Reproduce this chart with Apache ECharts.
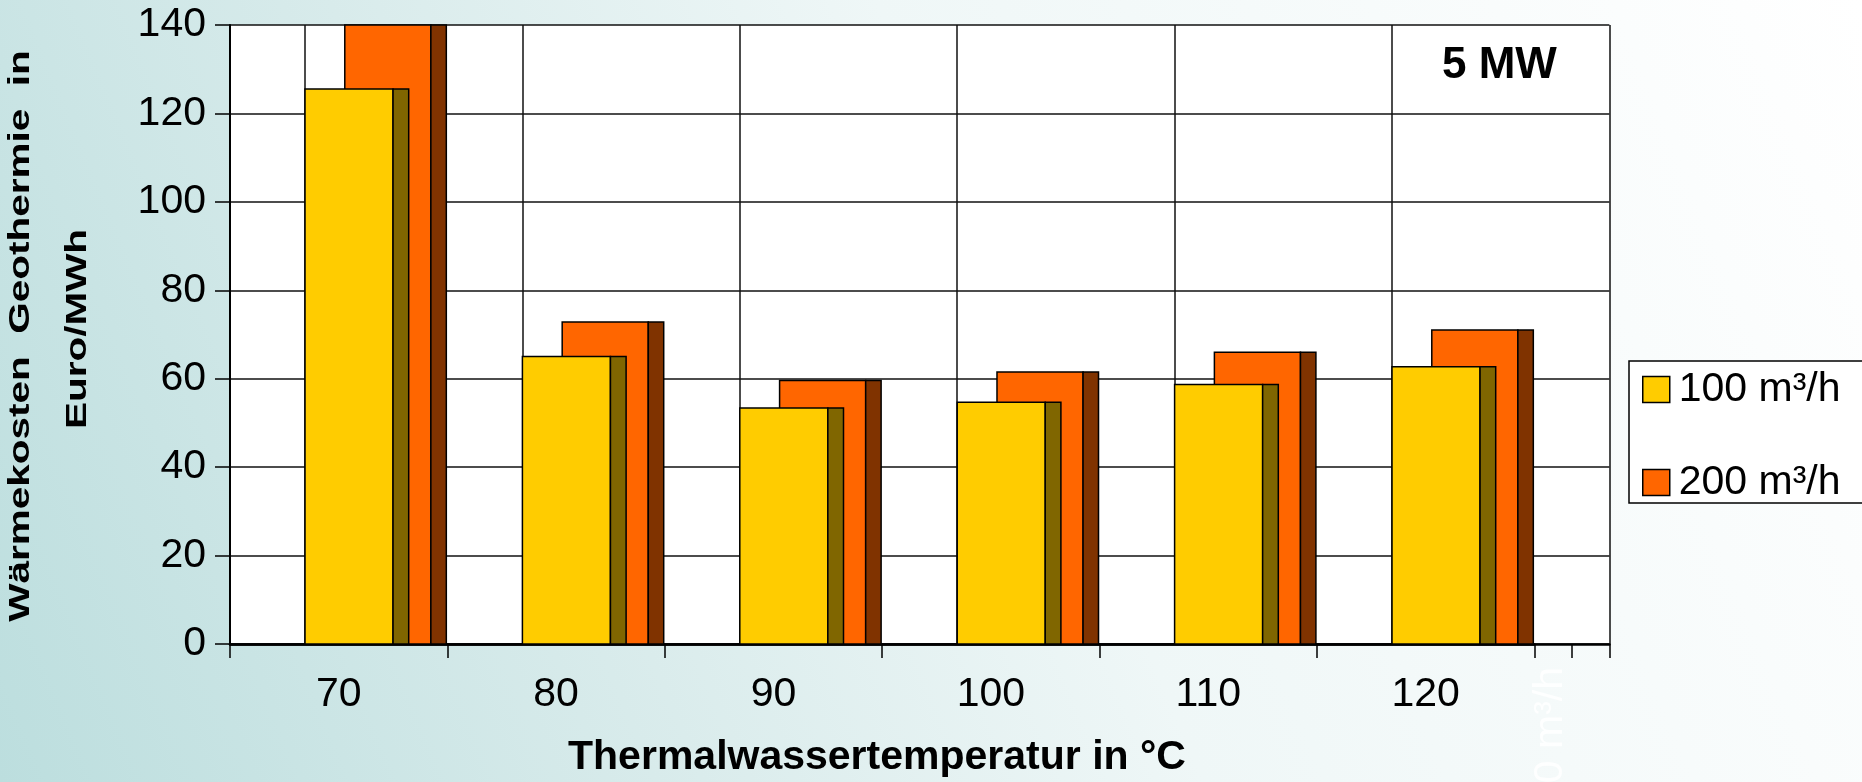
<!DOCTYPE html>
<html lang="de">
<head>
<meta charset="UTF-8">
<title>Wärmekosten Geothermie 5 MW</title>
<script src="https://cdn.jsdelivr.net/npm/echarts@6/dist/echarts.min.js"></script>
<style>
  html, body { margin: 0; padding: 0; }
  #chart { width: 1862px; height: 782px; }
</style>
</head>
<body>
<div id="chart"></div>
<script>
  // Thermalwassertemperatur in °C
  const temperatures = ['70', '80', '90', '100', '110', '120'];
  // Wärmekosten Geothermie in Euro/MWh
  const cost100 = [125.5, 65.0, 53.4, 54.7, 58.7, 62.7];
  const cost200 = [140, 72.8, 59.6, 61.5, 66.0, 71.0];
  const seriesNames = ['100 m³/h', '200 m³/h'];
  const yMin = 0, yMax = 140, yStep = 20;

  const FONT = '"Liberation Sans", Arial, Helvetica, sans-serif';

  // Tiefe der Rückwand als Anteil einer Kategorienbreite
  const DEPTH = 0.345;
  const PLOT_LEFT = 230, PLOT_TOP = 25, PLOT_H = 619;
  const CAT_W = 1304.4; // Breite der 6 Kategorien

  // Säule mit Vorderseite + dunkler Seitenfläche (Excel-3D-Optik)
  // lo/hi/end: Anteile der Kategorienbreite
  function bar3d(face, side, lo, hi, end) {
    return function (params, api) {
      const base = api.coord([api.value(0), 0]);
      const top = api.coord([api.value(0), api.value(1)]);
      const band = api.size([1, 0])[0];
      const x0 = base[0] - band / 2;
      const h = base[1] - top[1];
      return {
        type: 'group',
        children: [
          {
            type: 'rect',
            shape: { x: x0 + lo * band, y: top[1], width: (hi - lo) * band, height: h },
            style: { fill: face, stroke: '#000', lineWidth: 1.5 }
          },
          {
            type: 'rect',
            shape: { x: x0 + hi * band, y: top[1], width: (end - hi) * band, height: h },
            style: { fill: side, stroke: '#000', lineWidth: 1.5 }
          }
        ]
      };
    };
  }

  const chart = echarts.init(document.getElementById('chart'));

  const option = {
    animation: false,
    backgroundColor: {
      type: 'linear', x: 0, y: 1, x2: 1, y2: 0,
      colorStops: [
        { offset: 0, color: '#bcdede' },
        { offset: 0.3, color: '#d8ebeb' },
        { offset: 0.55, color: '#eff7f7' },
        { offset: 1, color: '#ffffff' }
      ]
    },
    grid: [
      // Säulen + Achsen
      { left: PLOT_LEFT, top: PLOT_TOP, width: CAT_W, height: PLOT_H },
      // Rückwand mit Gitternetz (um DEPTH nach rechts versetzt)
      {
        left: PLOT_LEFT, top: PLOT_TOP, width: CAT_W * (6 + DEPTH) / 6, height: PLOT_H,
        show: true, backgroundColor: '#fff', borderWidth: 0
      }
    ],
    xAxis: [
      {
        type: 'category', gridIndex: 0, data: temperatures, position: 'bottom',
        axisLine: { lineStyle: { color: '#000', width: 2.5 } },
        axisTick: { show: true, length: 14, lineStyle: { color: '#000', width: 1.5 } },
        axisLabel: { fontSize: 41, fontFamily: FONT, color: '#000', margin: 30 },
        splitLine: { show: false }
      },
      {
        // inverse: Zählung von der rechten Kante, damit die Linien um DEPTH versetzt liegen
        type: 'value', gridIndex: 1, inverse: true, position: 'bottom',
        min: 0, max: 6 + DEPTH, interval: 1,
        axisLine: { show: true, lineStyle: { color: '#000', width: 2.5 } },
        axisTick: { show: false },
        axisLabel: { show: false },
        splitLine: { show: true, lineStyle: { color: '#111', width: 1.5 } }
      },
      {
        // nur die beiden Striche am Boden der Rückwand
        type: 'value', gridIndex: 1, inverse: true, position: 'bottom',
        min: 0, max: 6 + DEPTH,
        axisLine: { show: false },
        axisTick: { show: true, length: 14, customValues: [0, DEPTH / 2],
                    lineStyle: { color: '#000', width: 1.5 } },
        axisLabel: { show: false },
        splitLine: { show: false }
      }
    ],
    yAxis: [
      {
        type: 'value', gridIndex: 0, min: yMin, max: yMax, interval: yStep,
        axisLine: { show: true, lineStyle: { color: '#000', width: 2 } },
        axisTick: { show: true, length: 15, lineStyle: { color: '#000', width: 1.5 } },
        axisLabel: { fontSize: 41, fontFamily: FONT, color: '#000', margin: 24 },
        splitLine: { show: false }
      },
      {
        type: 'value', gridIndex: 1, min: yMin, max: yMax, interval: yStep,
        axisLine: { show: false }, axisTick: { show: false }, axisLabel: { show: false },
        splitLine: { show: true, lineStyle: { color: '#111', width: 1.5 } }
      }
    ],
    legend: {
      orient: 'vertical', left: 1629, top: 361,
      icon: 'rect', itemWidth: 27, itemHeight: 26, itemGap: 52,
      padding: [8, 60, 0, 13],
      backgroundColor: '#fff', borderColor: '#000', borderWidth: 1.5, borderRadius: 0,
      textStyle: { fontSize: 41, fontFamily: FONT, color: '#000', padding: [0, 0, 0, 4] },
      data: [
        { name: seriesNames[0], itemStyle: { color: '#ffcc00', borderColor: '#000', borderWidth: 1.5 } },
        { name: seriesNames[1], itemStyle: { color: '#ff6600', borderColor: '#000', borderWidth: 1.5 } }
      ]
    },
    graphic: [
      {
        type: 'text', x: 21, y: 336, rotation: Math.PI / 2, scaleX: 1.35,
        style: { text: 'Wärmekosten  Geothermie  in', font: 'bold 30px ' + FONT, fill: '#000',
                 align: 'center', verticalAlign: 'middle' }
      },
      {
        type: 'text', x: 78, y: 329, rotation: Math.PI / 2, scaleX: 1.35,
        style: { text: 'Euro/MWh', font: 'bold 30px ' + FONT, fill: '#000',
                 align: 'center', verticalAlign: 'middle' }
      },
      {
        type: 'text', x: 877, y: 758,
        style: { text: 'Thermalwassertemperatur in °C', font: 'bold 41px ' + FONT, fill: '#000',
                 align: 'center', verticalAlign: 'middle' }
      },
      {
        type: 'text', x: 1442, y: 66,
        style: { text: '5 MW', font: 'bold 44px ' + FONT, fill: '#000',
                 align: 'left', verticalAlign: 'middle' }
      },
      {
        type: 'text', x: 1551, y: 667, rotation: Math.PI / 2,
        style: { text: '200 m³/h', font: '41px ' + FONT, fill: 'rgba(255,255,255,0.85)',
                 align: 'right', verticalAlign: 'middle' }
      }
    ],
    series: [
      {
        name: seriesNames[1], type: 'custom', xAxisIndex: 0, yAxisIndex: 0,
        itemStyle: { color: '#ff6600' },
        renderItem: bar3d('#ff6600', '#803300', 0.528, 0.924, 0.995),
        data: cost200.map((v, i) => [i, v]),
        z: 3
      },
      {
        name: seriesNames[0], type: 'custom', xAxisIndex: 0, yAxisIndex: 0,
        itemStyle: { color: '#ffcc00' },
        renderItem: bar3d('#ffcc00', '#806600', DEPTH, 0.75, 0.822),
        data: cost100.map((v, i) => [i, v]),
        z: 4
      }
    ]
  };

  chart.setOption(option);
</script>
</body>
</html>
